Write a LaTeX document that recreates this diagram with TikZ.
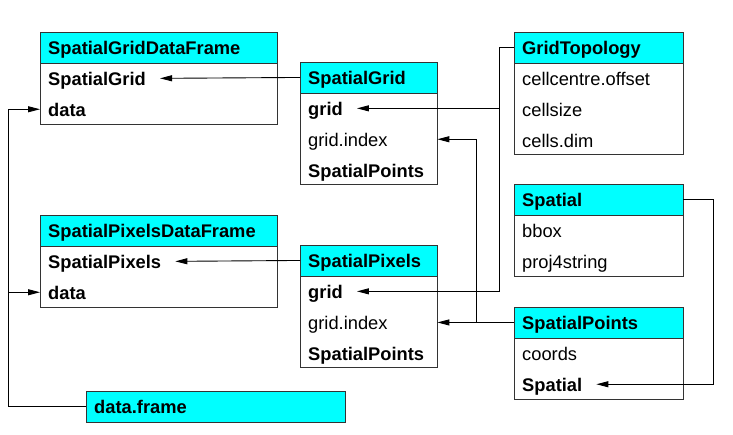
\documentclass[tikz,border=0pt]{standalone}
\usepackage{fontspec}
\setmainfont{Liberation Sans}
\usetikzlibrary{arrows.meta,positioning}
\definecolor{headcyan}{RGB}{0,255,255}

\begin{document}
\fontsize{18.3}{22}\selectfont
\begin{tikzpicture}[
      x=1pt, y=-1pt,
      head/.style={rectangle, draw=black!80, fill=headcyan, font=\bfseries, anchor=north west, minimum height=30.5pt, inner xsep=8pt, inner ysep=0pt, text height=16pt, text depth=1pt, align=left},
      body/.style={rectangle, draw=black!80, inner sep=0pt},
      field/.style={inner xsep=8pt, inner ysep=0pt, minimum height=30.5pt, text height=16pt, text depth=1pt},
      arrow/.style={-{Triangle[length=12pt,width=6pt]}, line width=0.9pt}
    ]
    \useasboundingbox (0,0) rectangle (733,434);

    % left column
    \node[head, text width=221pt] (sgdf) at (40,32) {SpatialGridDataFrame};
    \node[body, minimum width=237pt, minimum height=61pt, below right=0pt of sgdf.south west] (sgdf-b) {};
    \node[field, font=\bfseries, below right=0pt of sgdf-b.north west] (sgdf-1) {SpatialGrid};
    \node[field, font=\bfseries, below right=0pt of sgdf-1.south west] (sgdf-2) {data};

    \node[head, text width=221pt] (spdf) at (40,215) {SpatialPixelsDataFrame};
    \node[body, minimum width=237pt, minimum height=61pt, below right=0pt of spdf.south west] (spdf-b) {};
    \node[field, font=\bfseries, below right=0pt of spdf-b.north west] (spdf-1) {SpatialPixels};
    \node[field, font=\bfseries, below right=0pt of spdf-1.south west] (spdf-2) {data};

    \node[head, text width=243pt] (df) at (86,391) {data.frame};

    % middle column
    \node[head, text width=121pt] (sg) at (300,62) {SpatialGrid};
    \node[body, minimum width=137pt, minimum height=91.5pt, below right=0pt of sg.south west] (sg-b) {};
    \node[field, font=\bfseries, below right=0pt of sg-b.north west] (sg-1) {grid};
    \node[field, below right=0pt of sg-1.south west] (sg-2) {grid.index};
    \node[field, font=\bfseries, below right=0pt of sg-2.south west] (sg-3) {SpatialPoints};

    \node[head, text width=121pt] (spx) at (300,245) {SpatialPixels};
    \node[body, minimum width=137pt, minimum height=91.5pt, below right=0pt of spx.south west] (spx-b) {};
    \node[field, font=\bfseries, below right=0pt of spx-b.north west] (spx-1) {grid};
    \node[field, below right=0pt of spx-1.south west] (spx-2) {grid.index};
    \node[field, font=\bfseries, below right=0pt of spx-2.south west] (spx-3) {SpatialPoints};

    % right column
    \node[head, text width=153pt] (gt) at (514,32) {GridTopology};
    \node[body, minimum width=169pt, minimum height=91.5pt, below right=0pt of gt.south west] (gt-b) {};
    \node[field, below right=0pt of gt-b.north west] (gt-1) {cellcentre.offset};
    \node[field, below right=0pt of gt-1.south west] (gt-2) {cellsize};
    \node[field, below right=0pt of gt-2.south west] (gt-3) {cells.dim};

    \node[head, text width=153pt] (spa) at (514,184) {Spatial};
    \node[body, minimum width=169pt, minimum height=61pt, below right=0pt of spa.south west] (spa-b) {};
    \node[field, below right=0pt of spa-b.north west] (spa-1) {bbox};
    \node[field, below right=0pt of spa-1.south west] (spa-2) {proj4string};

    \node[head, text width=153pt] (spts) at (514,307) {SpatialPoints};
    \node[body, minimum width=169pt, minimum height=61pt, below right=0pt of spts.south west] (spts-b) {};
    \node[field, below right=0pt of spts-b.north west] (spts-1) {coords};
    \node[field, font=\bfseries, below right=0pt of spts-1.south west] (spts-2) {Spatial};

    % connectors
    \draw[arrow] (sg.west) -- ([xshift=6pt]sgdf-1.east);
    \draw[arrow] (spx.west) -- ([xshift=6pt]spdf-1.east);

    \draw[arrow] (gt.west) -- ++(-15pt,0) coordinate (gtj) |- ([xshift=6pt]sg-1.east);
    \draw[arrow] (gtj) |- ([xshift=6pt]spx-1.east);

    \draw[arrow] (spts.west) -- (spts.west -| spx-b.east);
    \coordinate (ptj) at ([xshift=-38pt]spts.west);
    \draw[arrow] (ptj) |- (sg-2.east -| sg-b.east);

    \draw[arrow] (spa.east) -- ++(30pt,0) |- ([xshift=6pt]spts-2.east);

    \draw[arrow] (df.west) -- ++(-78pt,0) coordinate (dfj) |- (sgdf-2.west);
    \draw[arrow] (dfj) |- (spdf-2.west);
  \end{tikzpicture}
\end{document}
